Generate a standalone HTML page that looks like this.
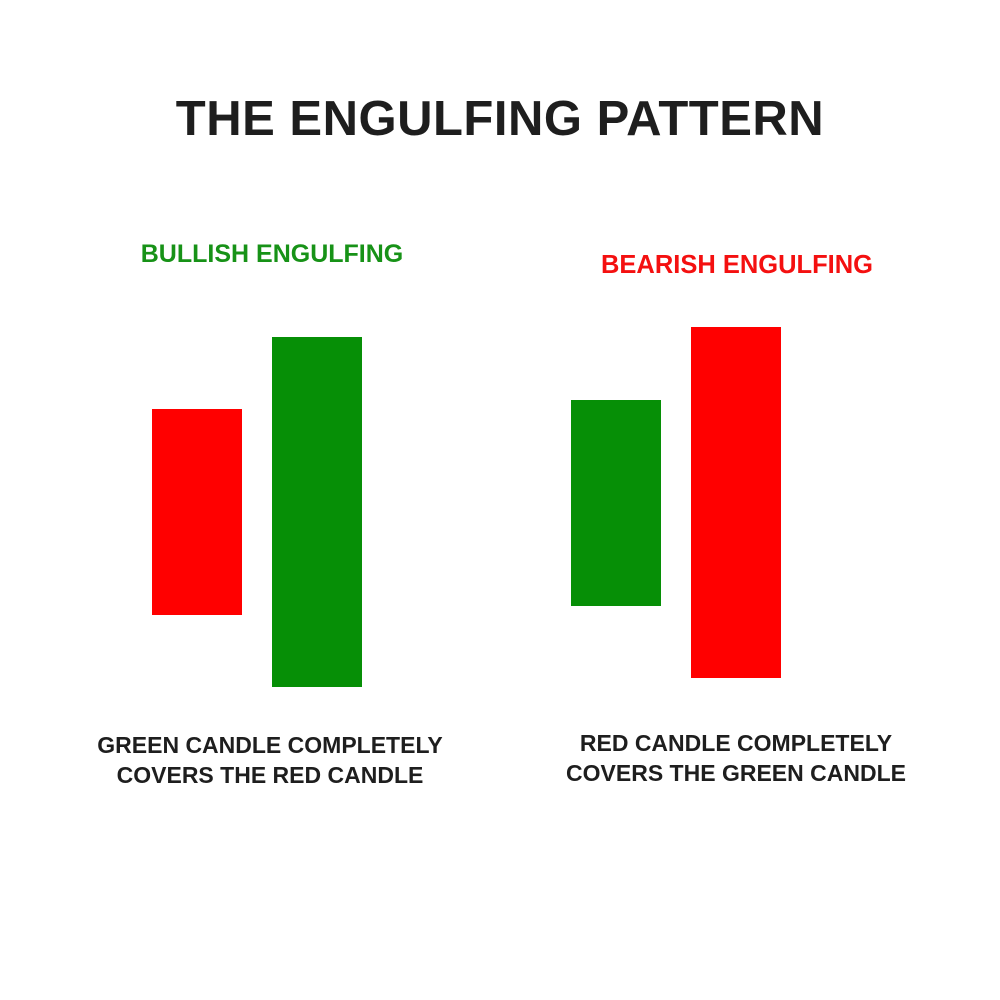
<!DOCTYPE html>
<html><head><meta charset="utf-8"><style>
body{margin:0;width:1000px;height:1000px;background:#fff;position:relative;overflow:hidden;font-family:"Liberation Sans",sans-serif;font-weight:bold}
div{position:absolute}
.t{white-space:nowrap;text-align:center}
</style></head><body>
<div class="t" style="left:0;width:1000px;top:91px;font-size:49px;color:#1e1e1e;letter-spacing:0.5px">THE ENGULFING PATTERN</div>
<div class="t" style="left:137px;width:270px;top:240px;font-size:25px;color:#179217">BULLISH ENGULFING</div>
<div class="t" style="left:598px;width:278px;top:251px;font-size:25.5px;color:#f41010">BEARISH ENGULFING</div>
<div style="left:152px;top:409px;width:90px;height:206px;background:#ff0000"></div>
<div style="left:272px;top:337px;width:90px;height:350px;background:#068f06"></div>
<div style="left:571px;top:400px;width:90px;height:206px;background:#068f06"></div>
<div style="left:691px;top:327px;width:90px;height:351px;background:#ff0000"></div>
<div class="t" style="left:70px;width:400px;top:730px;font-size:23px;line-height:30px;color:#1e1e1e">GREEN CANDLE COMPLETELY<br>COVERS THE RED CANDLE</div>
<div class="t" style="left:536px;width:400px;top:728px;font-size:23px;line-height:30px;color:#1e1e1e">RED CANDLE COMPLETELY<br>COVERS THE GREEN CANDLE</div>
</body></html>
